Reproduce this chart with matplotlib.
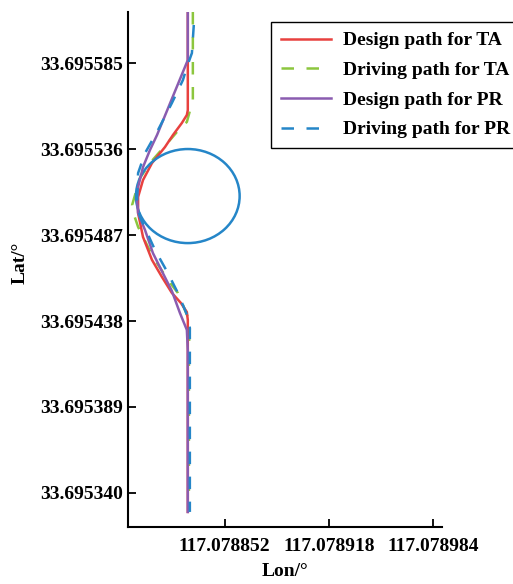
import matplotlib
matplotlib.use("Agg")
import matplotlib.pyplot as plt
from matplotlib.patches import Ellipse

plt.rcParams['font.family'] = ['Liberation Serif', 'DejaVu Serif']
plt.rcParams['font.weight'] = 'bold'
plt.rcParams['font.size'] = 14

# Design path for TA
ta_design_lon = [117.0788286, 117.0788286, 117.0788280, 117.0788248, 117.0788192, 117.0788141,
                 117.0788059, 117.0788002, 117.0787971, 117.0787971, 117.0788002, 117.0788059,
                 117.0788122, 117.0788185, 117.0788242, 117.0788280, 117.0788286, 117.0788286]
ta_design_lat = [33.6956141, 33.6955582, 33.6955554, 33.6955508, 33.6955440, 33.6955371,
                 33.6955280, 33.6955183, 33.6955087, 33.6954995, 33.6954859, 33.6954728,
                 33.6954631, 33.6954540, 33.6954483, 33.6954431, 33.6954386, 33.6953292]
# Driving path for TA
ta_drive_lon = [117.0788318, 117.0788318, 117.0788280, 117.0788255, 117.0788173, 117.0788046,
                117.0787983, 117.0787933, 117.0787939, 117.0787971, 117.0788065, 117.0788160,
                117.0788223, 117.0788255, 117.0788286, 117.0788299, 117.0788293, 117.0788293]
ta_drive_lat = [33.6956141, 33.6955639, 33.6955514, 33.6955497, 33.6955411, 33.6955280,
                33.6955195, 33.6955041, 33.6955001, 33.6954916, 33.6954745, 33.6954614,
                33.6954540, 33.6954471, 33.6954403, 33.6954340, 33.6954243, 33.6953292]
# Design path for PR
pr_design_lon = [117.0788286, 117.0788286, 117.0788091, 117.0788046, 117.0788002, 117.0787971,
                 117.0787964, 117.0787971, 117.0788015, 117.0788065, 117.0788128, 117.0788185,
                 117.0788236, 117.0788280, 117.0788286, 117.0788286]
pr_design_lat = [33.6956141, 33.6955867, 33.6955440, 33.6955354, 33.6955257, 33.6955143,
                 33.6955069, 33.6954995, 33.6954898, 33.6954767, 33.6954653, 33.6954551,
                 33.6954426, 33.6954329, 33.6954215, 33.6953292]
# Driving path for PR
pr_drive_lon = [117.0788324, 117.0788312, 117.0788280, 117.0788255, 117.0788185, 117.0788097,
                117.0788015, 117.0787971, 117.0787964, 117.0787983, 117.0788078, 117.0788160,
                117.0788223, 117.0788255, 117.0788286, 117.0788299, 117.0788299]
pr_drive_lat = [33.6956067, 33.6955907, 33.6955827, 33.6955753, 33.6955622, 33.6955468,
                33.6955337, 33.6955223, 33.6955081, 33.6954973, 33.6954785, 33.6954653,
                33.6954540, 33.6954471, 33.6954403, 33.6954340, 33.6953292]

# Obstacle circle
obs_center_lon = 117.0788286
obs_center_lat = 33.6955092
obs_width_lon = 65.7e-6
obs_height_lat = 53.6e-6

xticks = [117.078852, 117.078918, 117.078984]
yticks = [33.695585, 33.695536, 33.695487, 33.695438, 33.695389, 33.695340]
xtick_labels = ['117.078852', '117.078918', '117.078984']
ytick_labels = ['33.695585', '33.695536', '33.695487', '33.695438', '33.695389', '33.695340']

c_red = '#E8413F'
c_green = '#8CC63E'
c_purple = '#8A5CB0'
c_blue = '#2586C8'

fig = plt.figure(figsize=(5.13, 5.84), dpi=100)
ax = fig.add_axes([128/513, 1-527/584, (442-128)/513, (527-12)/584])

lw = 1.8
kw = dict(solid_joinstyle='round', dash_joinstyle='round')
ax.plot(ta_design_lon, ta_design_lat, color=c_red, lw=lw, label='Design path for TA', zorder=3, **kw)
ax.plot(ta_drive_lon, ta_drive_lat, color=c_green, lw=lw, ls=(0, (5, 5)), label='Driving path for TA', zorder=2, **kw)
ax.plot(pr_design_lon, pr_design_lat, color=c_purple, lw=lw, label='Design path for PR', zorder=4, **kw)
ax.plot(pr_drive_lon, pr_drive_lat, color=c_blue, lw=lw, ls=(0, (5, 5)), label='Driving path for PR', zorder=5, **kw)

ax.add_patch(Ellipse((obs_center_lon, obs_center_lat), obs_width_lon, obs_height_lat,
                     fill=False, edgecolor=c_blue, lw=lw, zorder=3))

ax.set_xlim(117.0787907, 117.0789897)
ax.set_ylim(33.6953206, 33.6956141)

ax.set_xticks(xticks)
ax.set_xticklabels(xtick_labels)
ax.set_yticks(yticks)
ax.set_yticklabels(ytick_labels)
ax.tick_params(direction='in', length=6, width=1.3, labelsize=14)
ax.tick_params(axis='x', pad=7.8)

for s in ['top', 'right']:
    ax.spines[s].set_visible(False)
for s in ['left', 'bottom']:
    ax.spines[s].set_linewidth(1.5)

ax.set_xlabel('Lon/°', fontsize=14, fontweight='bold', labelpad=6)
ax.set_ylabel('Lat/°', fontsize=14, fontweight='bold')
ax.yaxis.set_label_coords(-0.316, 0.513)

leg = ax.legend(loc='upper left', bbox_to_anchor=(271/513, 1-22/584), bbox_transform=fig.transFigure,
                borderaxespad=0, borderpad=0.5, fancybox=False, edgecolor='black', framealpha=1,
                handlelength=2.6, handletextpad=0.6, labelspacing=0.62, fontsize=14)
leg.get_frame().set_linewidth(1.0)

fig.savefig('out.png', dpi=100)
